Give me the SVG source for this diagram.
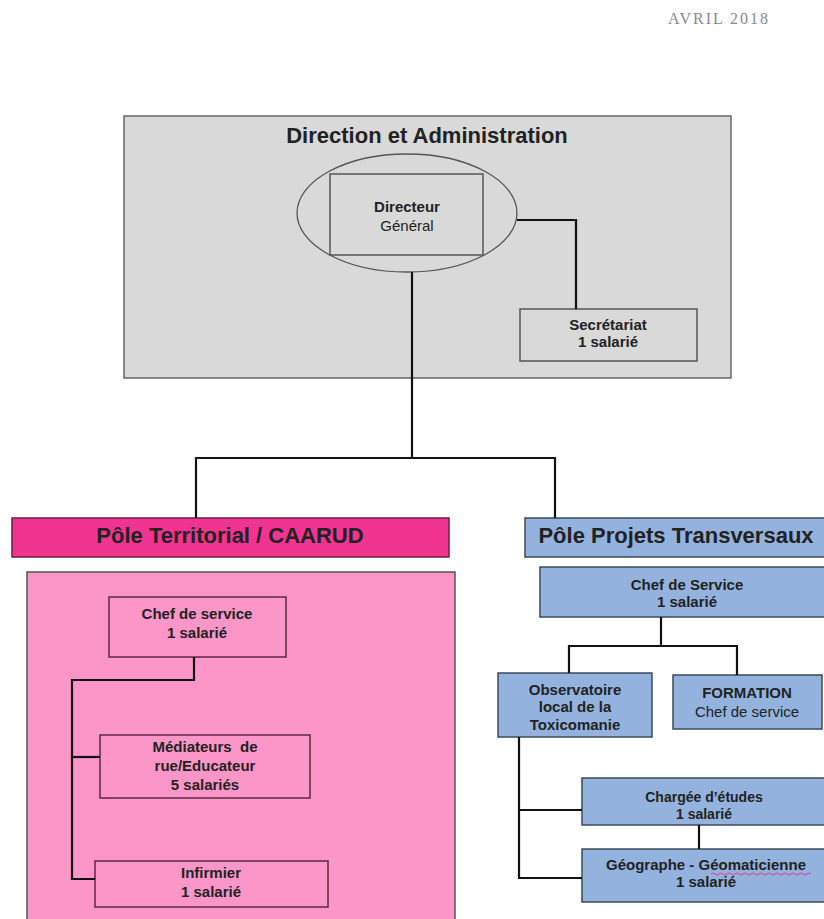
<svg xmlns="http://www.w3.org/2000/svg" width="824" height="919" viewBox="0 0 824 919">
<style>
text{font-family:"Liberation Sans",Arial,sans-serif;fill:#222;text-anchor:middle}
.b{font-weight:bold;font-size:15px}
.r{font-size:15px}
.h{font-weight:bold;font-size:22px}
.blue{fill:#93b3de;stroke:#3f4a5a;stroke-width:1.5}
.pk{fill:#fd96c8;stroke:#5a2a40;stroke-width:1.5}
.conn{fill:none;stroke:#111;stroke-width:2.2}
</style>
<rect width="824" height="919" fill="#fff"/>
<text x="718" y="24" style="font-family:'Liberation Serif','Times New Roman',serif;font-size:16px;fill:#8a8a8a" textLength="100">AVRIL 2018</text>

<g id="direction">
<rect x="124" y="116" width="607" height="262" fill="#d9d9d9" stroke="#666" stroke-width="1.5"/>
<text class="h" x="427" y="143">Direction et Administration</text>
</g>
<g id="directeur">
<ellipse cx="407" cy="213" rx="110" ry="59" fill="#d9d9d9" stroke="#555" stroke-width="1.3"/>
<rect x="330" y="174" width="153" height="81" fill="#d9d9d9" stroke="#555" stroke-width="1.5"/>
<text class="b" x="407" y="212">Directeur</text>
<text class="r" x="407" y="231">Général</text>
</g>
<g id="secretariat">
<rect x="520" y="309" width="177" height="52" fill="#d9d9d9" stroke="#555" stroke-width="1.5"/>
<text class="b" x="608" y="330">Secrétariat</text>
<text class="b" x="608" y="347">1 salarié</text>
</g>

<g id="pole-territorial">
<rect x="12" y="518" width="437" height="39" fill="#f0348f" stroke="#6a2040" stroke-width="1.5"/>
<text class="h" x="230" y="543" fill="#2a0a18">Pôle Territorial / CAARUD</text>
<rect x="27" y="572" width="428" height="360" fill="#fd96c8" stroke="#555" stroke-width="1.5"/>
</g>
<g id="chef-service-t">
<rect class="pk" x="109" y="597" width="177" height="60"/>
<text class="b" x="197" y="619">Chef de service</text>
<text class="b" x="197" y="638">1 salarié</text>
</g>
<g id="mediateurs">
<rect class="pk" x="100" y="735" width="210" height="63"/>
<text class="b" x="205" y="752" xml:space="preserve">Médiateurs  de</text>
<text class="b" x="205" y="771">rue/Educateur</text>
<text class="b" x="205" y="790">5 salariés</text>
</g>
<g id="infirmier">
<rect class="pk" x="95" y="861" width="233" height="46"/>
<text class="b" x="211" y="878">Infirmier</text>
<text class="b" x="211" y="897">1 salarié</text>
</g>

<g id="pole-projets">
<rect class="blue" x="525" y="518" width="320" height="39"/>
<text class="h" x="676" y="543">Pôle Projets Transversaux</text>
</g>
<g id="chef-service-p">
<rect class="blue" x="540" y="567" width="300" height="50"/>
<text class="b" x="687" y="590">Chef de Service</text>
<text class="b" x="687" y="607">1 salarié</text>
</g>
<g id="observatoire">
<rect class="blue" x="498" y="673" width="154" height="64"/>
<text class="b" x="575" y="695">Observatoire</text>
<text class="b" x="575" y="712">local de la</text>
<text class="b" x="575" y="730">Toxicomanie</text>
</g>
<g id="formation">
<rect class="blue" x="673" y="675" width="149" height="54"/>
<text class="r" x="747" y="698" style="font-weight:600">FORMATION</text>
<text class="r" x="747" y="717">Chef de service</text>
</g>
<g id="chargee">
<rect class="blue" x="582" y="778" width="260" height="47"/>
<text class="b" x="704" y="802" style="font-size:14px">Chargée d’études</text>
<text class="b" x="704" y="819" style="font-size:14px">1 salarié</text>
</g>
<g id="geographe">
<rect class="blue" x="582" y="849" width="260" height="53"/>
<text class="b" x="706" y="870">Géographe - Géomaticienne</text>
<text class="b" x="706" y="887">1 salarié</text>
<path d="M711 874 q2 -2 4 0 t4 0 t4 0 t4 0 t4 0 t4 0 t4 0 t4 0 t4 0 t4 0 t4 0 t4 0 t4 0 t4 0 t4 0 t4 0 t4 0 t4 0 t4 0 t4 0 t4 0 t4 0 t4 0 t4 0 t4 0" fill="none" stroke="#e0407a" stroke-width="1"/>
</g>

<g id="connectors">
<path class="conn" d="M517 220 H576 V309"/>
<path class="conn" d="M412 272 V458"/>
<path class="conn" d="M196 518 V458 H555 V518"/>
<path class="conn" d="M194 657 V680 H72 V879 H95"/>
<path class="conn" d="M72 757 H100"/>
<path class="conn" d="M661 617 V646"/>
<path class="conn" d="M569 673 V646 H737 V675"/>
<path class="conn" d="M519 737 V878 H582"/>
<path class="conn" d="M519 810 H582"/>
<path class="conn" d="M699 825 V849"/>
</g>
</svg>
